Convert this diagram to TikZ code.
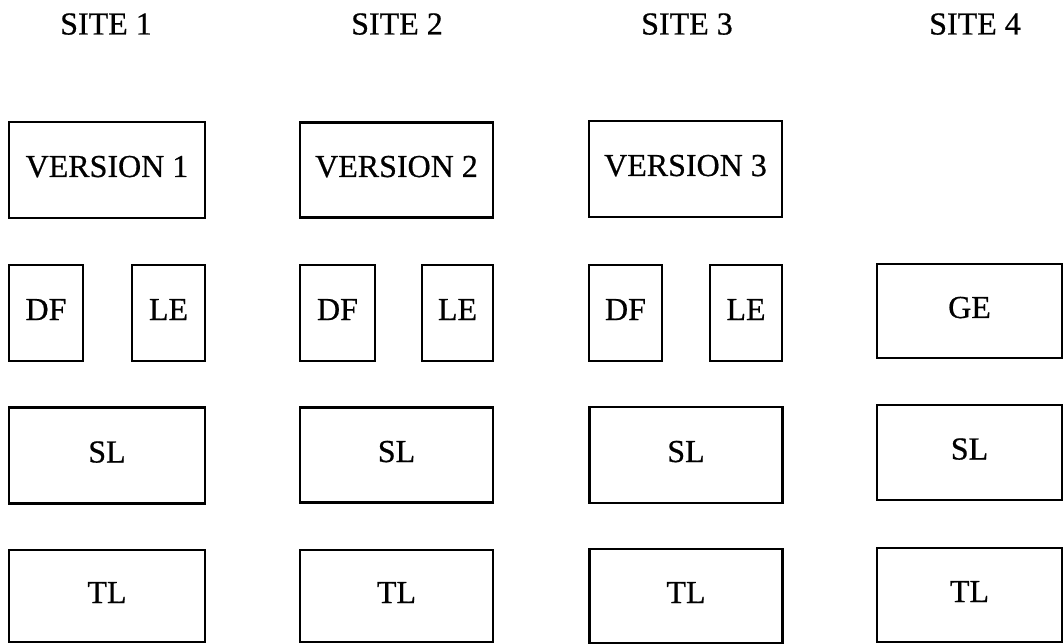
\documentclass[tikz,border=0pt]{standalone}
\usepackage{fontspec}
\setmainfont{Liberation Serif}
\newfontface\labelface{Liberation Serif}[FakeBold=0.6]
\begin{document}
\begin{tikzpicture}[x=1pt,y=-1pt,
  every node/.style={font=\labelface\fontsize{32}{36}\selectfont, inner sep=0pt},
  box/.style={draw, line width=2.2pt, text height=21pt, text depth=7pt},
  sitelabel/.style={text height=21pt, text depth=0pt}]
\useasboundingbox (0,0) rectangle (1063,644);

% column headings
\node[sitelabel] (s1) at (106,24) {SITE 1};
\node[sitelabel] (s2) at (397,24) {SITE 2};
\node[sitelabel] (s3) at (687,24) {SITE 3};
\node[sitelabel] (s4) at (975,24) {SITE 4};

% version row
\node[box, minimum width=196pt, minimum height=96pt] (v1) at (107,170) {VERSION 1};
\node[box, minimum width=193pt, minimum height=95pt] (v2) at (396.5,170) {VERSION 2};
\node[box, minimum width=193pt, minimum height=96pt] (v3) at (685.5,169) {VERSION 3};

% DF / LE / GE row
\node[box, minimum width=74pt, minimum height=96pt] (df1) at (46,313) {DF};
\node[box, minimum width=73pt, minimum height=96pt] (le1) at (168.5,313) {LE};
\node[box, minimum width=75pt, minimum height=96pt] (df2) at (337.5,313) {DF};
\node[box, minimum width=71pt, minimum height=96pt] (le2) at (457.5,313) {LE};
\node[box, minimum width=73pt, minimum height=96pt] (df3) at (625.5,313) {DF};
\node[box, minimum width=72pt, minimum height=96pt] (le3) at (746,313) {LE};
\node[box, minimum width=185pt, minimum height=94pt] (ge4) at (969.5,311) {GE};

% SL row
\node[box, minimum width=196pt, minimum height=96pt] (sl1) at (107,455.5) {SL};
\node[box, minimum width=193pt, minimum height=95pt] (sl2) at (396.5,455) {SL};
\node[box, minimum width=193pt, minimum height=96pt] (sl3) at (686,455) {SL};
\node[box, minimum width=185pt, minimum height=95pt] (sl4) at (969.5,452.5) {SL};

% TL row
\node[box, minimum width=196pt, minimum height=92pt] (tl1) at (107,596) {TL};
\node[box, minimum width=193pt, minimum height=92pt] (tl2) at (396.5,596) {TL};
\node[box, minimum width=193pt, minimum height=94pt] (tl3) at (686,596) {TL};
\node[box, minimum width=185pt, minimum height=94pt] (tl4) at (969.5,595) {TL};
\end{tikzpicture}
\end{document}
